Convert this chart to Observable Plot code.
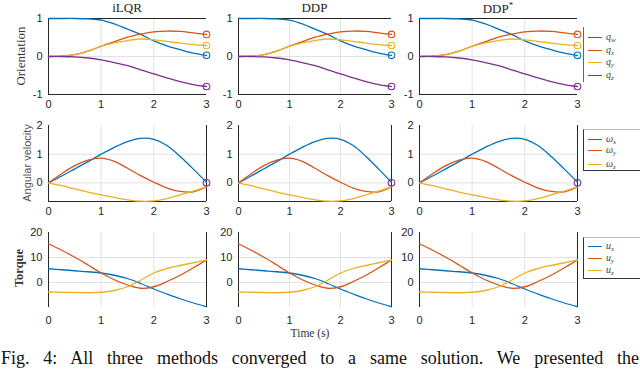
<!DOCTYPE html>
<html><head><meta charset="utf-8">
<script src="https://cdn.jsdelivr.net/npm/d3@7"></script>
<script src="https://cdn.jsdelivr.net/npm/@observablehq/plot@0.6"></script>
<style>
body{margin:0;background:#fff;}
#fig{position:relative;width:640px;height:369px;overflow:hidden;font-family:"Liberation Sans",Arial,sans-serif;background:#fff;}
.abs{position:absolute;}
.title{font-family:"Liberation Serif","Times New Roman",serif;font-size:13px;color:#222;text-align:center;width:120px;margin-left:-60px;}
.ylab{font-size:11px;color:#333;white-space:nowrap;transform:translate(-50%,-50%) rotate(-90deg);}
.serif{font-family:"Liberation Serif","Times New Roman",serif;}
.legend{background:#fff;}
.leg-row{position:absolute;left:4px;height:10px;}
.leg-line{position:absolute;left:0;top:0;width:14px;height:0;border-top:1.3px solid;}
.leg-txt{position:absolute;left:18px;top:-6px;font-family:"Liberation Serif","Times New Roman",serif;font-style:italic;font-size:10px;color:#444;white-space:nowrap;}
.leg-txt sub{font-size:7px;vertical-align:-2px;}
#caption{position:absolute;left:1px;top:349px;width:638px;font-family:"Liberation Serif","Times New Roman",serif;font-size:18px;line-height:18px;text-align:justify;text-align-last:justify;color:#111;white-space:nowrap;}
</style></head><body><div id="fig"></div><script>
// ---------- data ----------
const methods = ["iLQR", "DDP", "DDP*"];
const time = [0, 0.25, 0.5, 0.75, 1, 1.25, 1.5, 1.75, 2, 2.25, 2.5, 2.75, 3];
const timeTicks = [0, 1, 2, 3];

const orientNames = ["qw", "qx", "qy", "qz"];
const qw = [1, 1, 1, 0.99, 0.96, 0.86, 0.72, 0.58, 0.41, 0.28, 0.18, 0.09, 0.03];
const qx = [0, 0.01, 0.05, 0.14, 0.27, 0.39, 0.51, 0.59, 0.65, 0.67, 0.66, 0.62, 0.58];
const qy = [0, 0.01, 0.05, 0.14, 0.27, 0.36, 0.42, 0.46, 0.44, 0.40, 0.35, 0.31, 0.29];
const qz = [0, 0, -0.01, -0.04, -0.09, -0.16, -0.24, -0.35, -0.46, -0.56, -0.66, -0.74, -0.79];
const orientDomain = [-1, 1];
const orientTicks = [-1, 0, 1];
const orientGrid = [0];

const angNames = ["wx", "wy", "wz"];
const wx = [0, 0.24, 0.49, 0.74, 1.0, 1.24, 1.44, 1.55, 1.52, 1.30, 0.92, 0.48, 0.02];
const wy = [0, 0.32, 0.60, 0.79, 0.86, 0.75, 0.51, 0.25, 0.02, -0.18, -0.30, -0.31, -0.13];
const wz = [0, -0.10, -0.21, -0.32, -0.42, -0.51, -0.59, -0.64, -0.63, -0.55, -0.42, -0.29, -0.13];
const angDomain = [-0.65, 2];
const angTicks = [0, 1, 2];
const angGrid = [0, 1];
const angGoal = [0];

const torqueNames = ["ux", "uy", "uz"];
const ux = [5.5, 5.1, 4.7, 4.3, 3.8, 2.9, 1.6, -0.4, -2.6, -4.6, -6.5, -8.2, -9.7];
const uy = [15.5, 12.9, 10.1, 7.0, 3.8, 1.1, -1.0, -2.3, -1.7, 0.4, 2.9, 5.9, 9.0];
const uz = [-3.8, -3.9, -4.0, -4.1, -3.9, -3.2, -1.7, 0.9, 3.8, 5.6, 6.8, 7.9, 9.0];
const torqueDomain = [-10, 20];
const torqueTicks = [0, 10, 20];
const torqueGrid = [0, 10];

const colors = ["#0072BD", "#D95319", "#EDB120", "#7E2F8E"];

// ---------- layout ----------
const cols = [[48, 206], [238, 391], [419, 577]];
const rows = [[18, 94], [125, 201], [232, 307]];
const ML = 32, MR = 8, MT = 6, MB = 24;
const tDomain = [time[0], time[time.length - 1]];

function longData(names, arrays) {
  const out = [];
  names.forEach((n, i) => arrays[i].forEach((v, j) => out.push({t: time[j], v, s: n})));
  return out;
}
function endData(names, arrays) {
  return names.map((n, i) => ({t: time[time.length - 1], v: arrays[i][arrays[i].length - 1], s: n}));
}

const fig = document.getElementById("fig");

function panel(ci, ri, cfg) {
  const [x0, x1] = cols[ci], [y0, y1] = rows[ri];
  const w = x1 - x0, h = y1 - y0;
  const dark = "#262626";
  const marks = [];
  const gx = timeTicks.filter(v => v > tDomain[0] && v < tDomain[1]);
  marks.push(Plot.ruleX(gx, {stroke: "#e2e2e2", strokeWidth: 1}));
  marks.push(Plot.ruleY(cfg.grid, {stroke: "#e2e2e2", strokeWidth: 1}));
  if (cfg.frame.includes("top")) marks.push(Plot.ruleY([cfg.domain[1]], {stroke: dark, strokeWidth: 1}));
  if (cfg.frame.includes("bottom")) marks.push(Plot.ruleY([cfg.domain[0]], {stroke: dark, strokeWidth: 1}));
  if (cfg.frame.includes("left")) marks.push(Plot.ruleX([tDomain[0]], {stroke: dark, strokeWidth: 1}));
  if (cfg.frame.includes("right")) marks.push(Plot.ruleX([tDomain[1]], {stroke: dark, strokeWidth: 1}));
  marks.push(Plot.line(cfg.data, {x: "t", y: "v", stroke: "s", z: "s", curve: "catmull-rom", strokeWidth: 1.3}));
  if (cfg.ends) marks.push(Plot.dot(cfg.ends, {x: "t", y: "v", stroke: "s", r: 3.3, strokeWidth: 1.1, fill: "none"}));
  if (cfg.goal) marks.push(Plot.dot(cfg.goal, {x: () => tDomain[1], y: d => d, stroke: colors[3], r: 3.3, strokeWidth: 1.1, fill: "none"}));
  const svg = Plot.plot({
    width: w + ML + MR, height: h + MT + MB,
    marginLeft: ML, marginRight: MR, marginTop: MT, marginBottom: MB,
    style: {fontSize: "11px", fontFamily: "'Liberation Sans', Arial, sans-serif", color: "#262626", background: "transparent", overflow: "visible"},
    x: {domain: tDomain, ticks: timeTicks, tickSize: 0, tickPadding: cfg.xPad, label: null, tickFormat: d => String(d)},
    y: {domain: cfg.domain, ticks: cfg.ticks, tickSize: 0, tickPadding: 6, label: null, tickFormat: d => String(d)},
    color: {domain: cfg.names, range: colors},
    marks
  });
  svg.style.position = "absolute";
  svg.style.left = (x0 - ML) + "px";
  svg.style.top = (y0 - MT) + "px";
  fig.appendChild(svg);
}

const orientData = longData(orientNames, [qw, qx, qy, qz]);
const orientEnds = endData(orientNames, [qw, qx, qy, qz]);
const angData = longData(angNames, [wx, wy, wz]);
const torqueData = longData(torqueNames, [ux, uy, uz]);

for (let c = 0; c < 3; c++) {
  panel(c, 0, {data: orientData, names: orientNames, domain: orientDomain, ticks: orientTicks, grid: orientGrid,
    frame: ["top", "bottom", "left"], ends: orientEnds, xPad: 6});
  panel(c, 1, {data: angData, names: angNames, domain: angDomain, ticks: angTicks, grid: angGrid,
    frame: ["bottom", "left", "right"], goal: angGoal, xPad: 6});
  panel(c, 2, {data: torqueData, names: torqueNames, domain: torqueDomain, ticks: torqueTicks, grid: torqueGrid,
    frame: ["left", "right"], xPad: 9});
}

// ---------- text ----------
function addDiv(cls, html, left, top, extra) {
  const d = document.createElement("div");
  d.className = "abs " + cls;
  d.innerHTML = html;
  d.style.left = left + "px";
  d.style.top = top + "px";
  if (extra) Object.assign(d.style, extra);
  fig.appendChild(d);
  return d;
}
methods.forEach((m, i) => {
  const cx = (cols[i][0] + cols[i][1]) / 2;
  const label = m.endsWith("*") ? m.slice(0, -1) + "<sup style='font-size:9px'>*</sup>" : m;
  addDiv("title", label, cx, 0);
});
addDiv("ylab serif", "Orientation", 21, 56, {fontSize: "13px"});
addDiv("ylab", "Angular velocity", 27, 163, {fontSize: "11px", color: "#555"});
addDiv("ylab serif", "Torque", 19, 268, {fontSize: "12.5px", fontWeight: "bold", color: "#333"});
addDiv("serif", "Time (s)", 310, 327, {fontSize: "11.5px", color: "#333", transform: "translateX(-50%)"});

// legends
const legendDefs = [
  {top: 27, height: 55, sym: "q", subs: ["w", "x", "y", "z"], ys: [10, 23, 35, 48], border: "left"},
  {top: 129, height: 40, sym: "ω", subs: ["x", "y", "z"], ys: [9, 20, 34], border: "box"},
  {top: 237, height: 40, sym: "u", subs: ["x", "y", "z"], ys: [8, 20, 32], border: "box"}
];
legendDefs.forEach(L => {
  const d = addDiv("legend", "", 583, L.top, {width: "70px", height: L.height + "px"});
  if (L.border === "left") {
    d.style.borderLeft = "1.5px solid #666";
  } else {
    d.style.borderLeft = "1.5px solid #333";
    d.style.borderBottom = "1.5px solid #333";
    d.style.borderTop = "1px solid #bbb";
  }
  L.subs.forEach((s, i) => {
    const r = document.createElement("div");
    r.className = "leg-row";
    r.style.top = L.ys[i] + "px";
    r.innerHTML = `<div class="leg-line" style="border-color:${colors[i]}"></div><div class="leg-txt">${L.sym}<sub>${s}</sub></div>`;
    d.appendChild(r);
  });
});

addDiv("", "Fig. 4: All three methods converged to a same solution. We presented the", 1, 349, {position: "absolute"}).id = "caption";
</script></body></html>
